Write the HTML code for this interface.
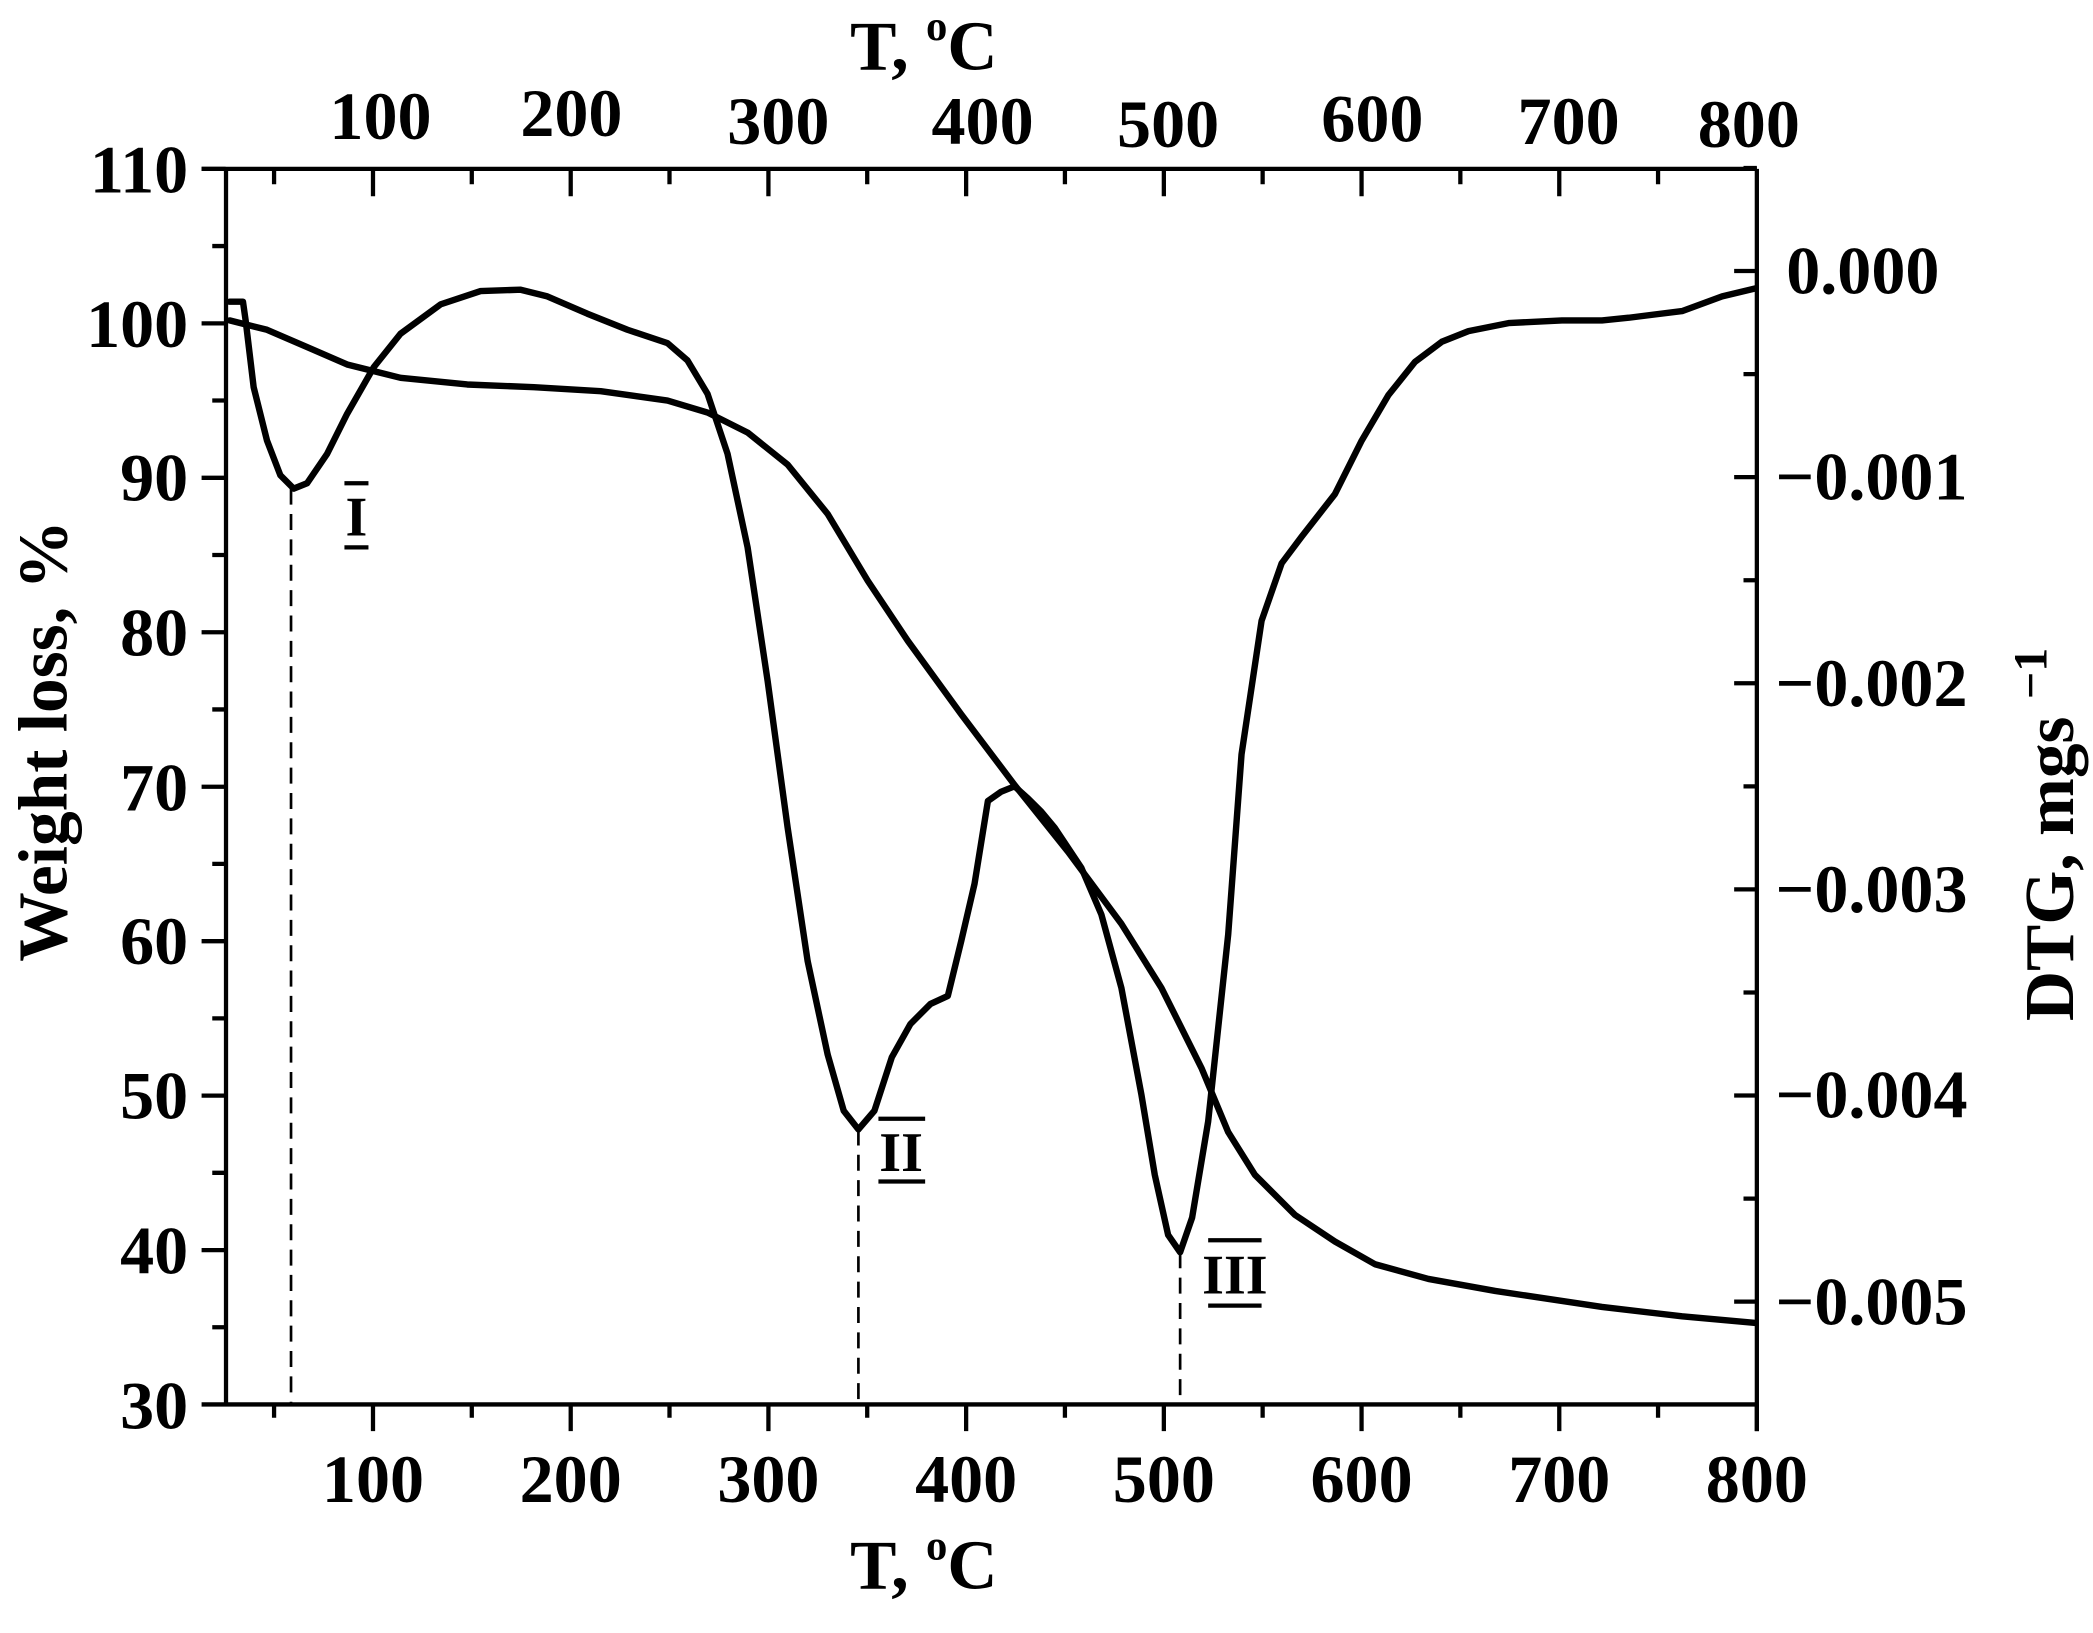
<!DOCTYPE html>
<html><head><meta charset="utf-8"><style>
html,body{margin:0;padding:0;background:#fff}
svg{display:block}
text{font-family:"Liberation Serif","Times New Roman",serif;font-weight:bold;fill:#000}
</style></head><body>
<svg width="2093" height="1633" viewBox="0 0 1567.8 1223.2" xmlns="http://www.w3.org/2000/svg">
<g stroke="#000" stroke-width="3.2" fill="none" stroke-linecap="butt">
<line x1="151" y1="126.5" x2="1316" y2="126.5"/>
<line x1="151" y1="1052" x2="1316" y2="1052"/>
<line x1="169.3" y1="126.5" x2="169.3" y2="1052"/>
<line x1="1316" y1="126.5" x2="1316" y2="1072"/>
<path d="M151 126.5H169 M151 242.2H169 M151 357.9H169 M151 473.6H169 M151 589.3H169 M151 705H169 M151 820.7H169 M151 936.4H169
M159 184.3H169 M159 300H169 M159 415.7H169 M159 531.4H169 M159 647.1H169 M159 762.8H169 M159 878.5H169 M159 994.2H169"/>
<path d="M279.4 1052V1072 M427.5 1052V1072 M575.6 1052V1072 M723.7 1052V1072 M871.8 1052V1072 M1019.9 1052V1072 M1168 1052V1072 M1316 1052V1072
M205.3 1052V1062 M353.4 1052V1062 M501.5 1052V1062 M649.6 1052V1062 M797.7 1052V1062 M945.8 1052V1062 M1093.9 1052V1062 M1242 1052V1062"/>
<path d="M279.4 126.5V147 M427.5 126.5V147 M575.6 126.5V147 M723.7 126.5V147 M871.8 126.5V147 M1019.9 126.5V147 M1168 126.5V147
M205.3 126.5V138 M353.4 126.5V138 M501.5 126.5V138 M649.6 126.5V138 M797.7 126.5V138 M945.8 126.5V138 M1093.9 126.5V138 M1242 126.5V138"/>
<path d="M1299 203H1316 M1299 357.4H1316 M1299 511.8H1316 M1299 666.2H1316 M1299 820.6H1316 M1299 975H1316
M1306 125.8H1316 M1306 280.2H1316 M1306 434.6H1316 M1306 589H1316 M1306 743.4H1316 M1306 897.8H1316"/>
</g>
<g stroke="#000" stroke-width="2" stroke-dasharray="12,7" fill="none">
<line x1="218" y1="366" x2="218" y2="1052"/>
<line x1="643" y1="846" x2="643" y2="1052"/>
<line x1="884" y1="938" x2="884" y2="1052"/>
</g>
<g stroke="#000" stroke-width="4.8" fill="none" stroke-linejoin="round" stroke-linecap="round">
<polyline points="172,240 200,247 230,260 260,273 300,283 350,288 400,290 450,293 500,300 530,309 560,324 590,348 620,385 650,435 680,480 720,535 760,588 800,638 840,692 870,740 900,800 920,848 940,880 970,910 1000,930 1030,947 1070,958 1120,967 1200,979 1260,986 1315,991"/>
<polyline points="172,226 182,226 184,240 190,290 200,330 210,356 220,366 230,362 245,340 260,310 280,275 300,250 330,228 360,218 390,217 410,222 440,235 470,247 500,257 515,270 530,295 545,340 560,410 575,510 590,620 605,720 620,790 632,832 643,846 655,832 668,792 682,767 697,752 710,746 720,705 730,662 740,600 750,593 760,589 770,598 780,608 790,620 810,650 825,685 840,740 855,820 865,880 875,925 884,938 893,912 905,840 920,700 930,565 945,465 960,422 975,402 1000,370 1020,330 1040,296 1060,271 1080,256 1100,248 1130,242 1170,240 1200,240 1220,238 1260,233 1290,222 1315,216"/>
</g>
<g stroke="#000" stroke-width="3.2">
<line x1="258" y1="362" x2="276" y2="362"/><line x1="258" y1="410" x2="276" y2="410"/>
<line x1="658" y1="838" x2="693" y2="838"/><line x1="658" y1="885" x2="693" y2="885"/>
<line x1="905" y1="929" x2="945" y2="929"/><line x1="905" y1="978" x2="945" y2="978"/>
</g>
<g font-size="42" text-anchor="middle">
<text x="267" y="401">I</text>
<text x="675" y="877">II</text>
<text x="925" y="969">III</text>
</g>
<g font-size="51" text-anchor="end">
<text x="141" y="144">110</text>
<text x="141" y="260">100</text>
<text x="141" y="375">90</text>
<text x="141" y="491">80</text>
<text x="141" y="607">70</text>
<text x="141" y="722">60</text>
<text x="141" y="838">50</text>
<text x="141" y="954">40</text>
<text x="141" y="1070">30</text>
</g>
<g font-size="51" text-anchor="middle">
<text x="279.4" y="1125">100</text>
<text x="427.5" y="1125">200</text>
<text x="575.6" y="1125">300</text>
<text x="723.7" y="1125">400</text>
<text x="871.8" y="1125">500</text>
<text x="1019.9" y="1125">600</text>
<text x="1168" y="1125">700</text>
<text x="1316" y="1125">800</text>
</g>
<g font-size="51" text-anchor="middle">
<text x="285" y="104">100</text>
<text x="428" y="102">200</text>
<text x="583" y="108">300</text>
<text x="736" y="108">400</text>
<text x="875" y="110">500</text>
<text x="1028" y="106">600</text>
<text x="1175" y="108">700</text>
<text x="1310" y="110">800</text>
</g>
<g font-size="51">
<text x="1338" y="220">0.000</text>
<text x="1330" y="374">−0.001</text>
<text x="1330" y="529">−0.002</text>
<text x="1330" y="683">−0.003</text>
<text x="1330" y="837">−0.004</text>
<text x="1330" y="992">−0.005</text>
</g>
<text x="692" y="1190" font-size="52" text-anchor="middle">T, <tspan font-size="32" dy="-22">o</tspan><tspan dy="22">C</tspan></text>
<text x="692" y="52" font-size="52" text-anchor="middle">T, <tspan font-size="32" dy="-22">o</tspan><tspan dy="22">C</tspan></text>
<text transform="translate(50,555) rotate(-90)" font-size="52" text-anchor="middle">Weight loss, %</text>
<text transform="translate(1553,625) rotate(-90)" font-size="52" text-anchor="middle">DTG, mgs <tspan font-size="36" dy="-20">−1</tspan></text>
</svg>
</body></html>
